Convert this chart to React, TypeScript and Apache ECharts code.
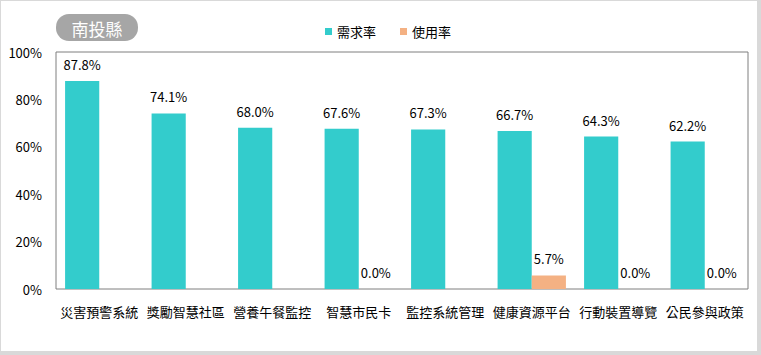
import React, { useEffect, useRef } from "react";
import * as echarts from "echarts";

const categories = ["災害預警系統", "獎勵智慧社區", "營養午餐監控", "智慧市民卡", "監控系統管理", "健康資源平台", "行動裝置導覽", "公民參與政策"];
const demandRate = [87.8, 74.1, 68.0, 67.6, 67.3, 66.7, 64.3, 62.2];
const usageRate: (number | null)[] = [null, null, null, 0.0, null, 5.7, 0.0, 0.0];
const seriesNames = ["需求率", "使用率"];
const titleText = "南投縣";

const FONT = '"Noto Sans CJK TC", "Noto Sans", sans-serif';

export default function App() {
  const ref = useRef<HTMLDivElement>(null);
  useEffect(() => {
    if (!ref.current) return;
    const chart = echarts.init(ref.current, null, { renderer: "svg" });
    const label = {
      show: true,
      position: "top" as const,
      distance: 10,
      color: "#000",
      fontSize: 13,
      fontFamily: FONT,
      formatter: (p: any) => (p.value == null ? "" : Number(p.value).toFixed(1) + "%"),
    };
    chart.setOption({
      animation: false,
      backgroundColor: "#fff",
      textStyle: { fontFamily: FONT },
      grid: {
        left: 56,
        right: 13,
        top: 52,
        bottom: 66,
        show: true,
        borderColor: "#7f7f7f",
        borderWidth: 1,
        backgroundColor: "transparent",
      },
      legend: {
        data: seriesNames,
        left: 320,
        top: 20,
        icon: "rect",
        itemWidth: 7,
        itemHeight: 7,
        itemGap: 24,
        textStyle: { fontSize: 13, color: "#000", fontFamily: FONT },
      },
      graphic: [
        { type: "rect", left: 0, top: 0, shape: { width: 761, height: 1 }, style: { fill: "#d9d9d9" } },
        { type: "rect", left: 0, top: 0, shape: { width: 1, height: 355 }, style: { fill: "#d9d9d9" } },
        { type: "rect", left: 757, top: 0, shape: { width: 4, height: 355 }, style: { fill: "#d9d9d9" } },
        { type: "rect", left: 0, top: 351, shape: { width: 761, height: 4 }, style: { fill: "#d9d9d9" } },
        {
          type: "group",
          left: 56,
          top: 14,
          children: [
            { type: "rect", shape: { x: 0, y: 0, width: 82, height: 27, r: 13 }, style: { fill: "#a6a6a6" } },
            {
              type: "text",
              x: 41,
              y: 14,
              style: {
                text: titleText,
                fill: "#fff",
                fontSize: 17,
                fontFamily: FONT,
                align: "center",
                verticalAlign: "middle",
              },
            },
          ],
        },
      ],
      xAxis: {
        type: "category",
        data: categories,
        axisLine: { show: false },
        axisTick: { show: false },
        axisLabel: { color: "#000", fontSize: 13, margin: 16, interval: 0, fontFamily: FONT },
      },
      yAxis: {
        type: "value",
        min: 0,
        max: 100,
        interval: 20,
        axisLine: { show: false },
        axisTick: { show: false },
        splitLine: { show: false },
        axisLabel: { color: "#000", fontSize: 13, margin: 14, formatter: "{value}%", fontFamily: FONT },
      },
      series: [
        {
          name: seriesNames[0],
          type: "bar",
          data: demandRate,
          itemStyle: { color: "#33cccc" },
          barGap: "0%",
          barCategoryGap: "21%",
          label,
        },
        {
          name: seriesNames[1],
          type: "bar",
          data: usageRate,
          itemStyle: { color: "#f4b183" },
          label,
        },
      ],
    });
    return () => chart.dispose();
  }, []);
  return (
    <div
      ref={ref}
      style={{ position: "absolute", left: 0, top: 0, width: 761, height: 355 }}
    />
  );
}
